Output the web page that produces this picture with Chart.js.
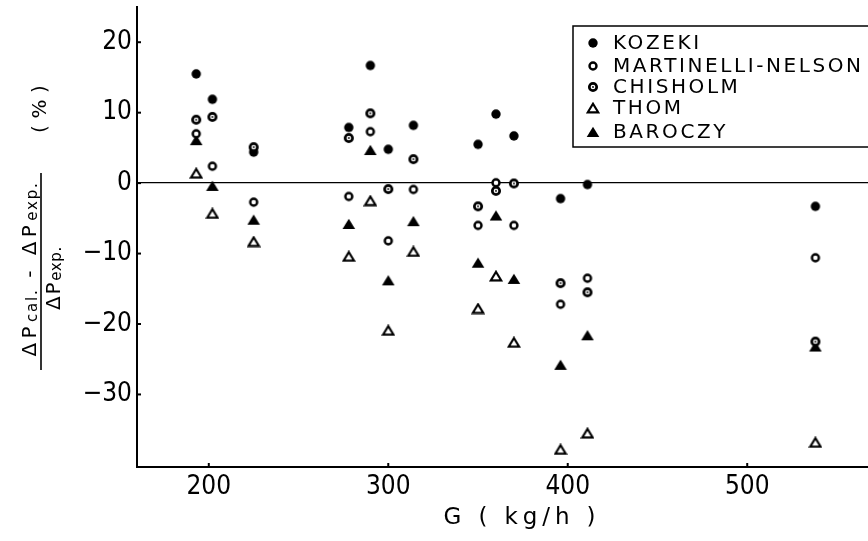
<!DOCTYPE html>
<html>
<head>
<meta charset="utf-8">
<script src="https://cdn.jsdelivr.net/npm/chart.js@4/dist/chart.umd.min.js"></script>
<style>
html,body{margin:0;padding:0;background:#fff;}
#wrap{width:868px;height:541px;position:relative;}
</style>
</head>
<body>
<div id="wrap"><canvas id="c"></canvas></div>
<script>
// ---- data ----
const G = [193, 202, 225, 278, 290, 300, 314, 350, 360, 370, 396, 411, 538];
const kozeki     = [15.5, 11.9, 4.4, 7.9, 16.7, 4.8, 8.2, 5.5, 9.8, 6.7, -2.2, -0.2, -3.3];
const martinelli = [7.0, 2.4, -2.7, -1.9, 7.3, -8.2, -0.9, -6.0, 0.05, -6.0, -17.2, -13.5, -10.6];
const chisholm   = [9.0, 9.4, 5.1, 6.4, 9.9, -0.85, 3.4, -3.3, -1.1, -0.05, -14.2, -15.5, -22.5];
const thom       = [1.4, -4.3, -8.3, -10.4, -2.5, -20.9, -9.7, -17.8, -13.2, -22.6, -37.8, -35.5, -36.8];
const baroczy    = [6.1, -0.4, -5.2, -5.8, 4.7, -13.8, -5.4, -11.3, -4.6, -13.6, -25.8, -21.6, -23.2];
const seriesNames = ['KOZEKI', 'MARTINELLI-NELSON', 'CHISHOLM', 'THOM', 'BAROCZY'];
const xTicks = [200, 300, 400, 500];
const yTicks = [-30, -20, -10, 0, 10, 20];

const FONT = "'DejaVu Sans Condensed', 'DejaVu Sans', sans-serif";
const WFONT = "'DejaVu Sans', sans-serif";

// ---- marker images ----
function mk(w, h, draw) {
  const c = document.createElement('canvas');
  c.width = w; c.height = h;
  const g = c.getContext('2d');
  draw(g, w, h);
  return c;
}
const mFilledCircle = mk(12, 12, (g) => { g.fillStyle = '#000'; g.beginPath(); g.arc(6, 6, 4.7, 0, Math.PI * 2); g.fill(); });
const mOpenCircle = mk(12, 12, (g) => { g.fillStyle = '#fff'; g.strokeStyle = '#000'; g.lineWidth = 2.4; g.beginPath(); g.arc(6, 6, 3.5, 0, Math.PI * 2); g.fill(); g.stroke(); });
const mDotCircle = mk(12, 12, (g) => { g.fillStyle = '#fff'; g.strokeStyle = '#000'; g.lineWidth = 2.7; g.beginPath(); g.arc(6, 6, 3.7, 0, Math.PI * 2); g.fill(); g.stroke(); g.fillStyle = '#000'; g.beginPath(); g.arc(6, 6, 0.9, 0, Math.PI * 2); g.fill(); });
const mOpenTri = mk(14, 12, (g) => { g.fillStyle = '#fff'; g.strokeStyle = '#000'; g.lineWidth = 2.2; g.lineJoin = 'miter'; g.beginPath(); g.moveTo(7, 1.8); g.lineTo(12.2, 10.3); g.lineTo(1.8, 10.3); g.closePath(); g.fill(); g.stroke(); });
const mFilledTri = mk(14, 12, (g) => { g.fillStyle = '#000'; g.beginPath(); g.moveTo(7, 0.8); g.lineTo(13.3, 11); g.lineTo(0.7, 11); g.closePath(); g.fill(); });
const markers = [mFilledCircle, mOpenCircle, mDotCircle, mOpenTri, mFilledTri];
const seriesVals = [kozeki, martinelli, chisholm, thom, baroczy];
const orders = [2, 1, 0, 3, 4];

const datasets = seriesNames.map((name, i) => ({
  label: name,
  data: G.map((g, j) => ({ x: g, y: seriesVals[i][j] })),
  pointStyle: markers[i],
  pointRadius: 6,
  showLine: false,
  order: orders[i]
}));

// draw text runs [text, font, baselineShift, spacingWeight] spread to a target length, centred at cu
function spacedRuns(ctx, parts, cu, v, target) {
  ctx.letterSpacing = '0px';
  let W = 0, n = 0;
  parts.forEach(p => { ctx.font = p[1]; W += ctx.measureText(p[0]).width; n += [...p[0]].length * (p[3] ?? 1); });
  const s = Math.max(0, (target - W) / Math.max(1, n));
  let u = cu - target / 2;
  ctx.textAlign = 'left';
  parts.forEach(p => {
    ctx.font = p[1];
    ctx.letterSpacing = '0px';
    const w = ctx.measureText(p[0]).width;
    const sp = s * (p[3] ?? 1);
    ctx.letterSpacing = sp + 'px';
    ctx.fillText(p[0], u, v + p[2]);
    u += w + sp * [...p[0]].length;
  });
  ctx.letterSpacing = '0px';
}

const customDraw = {
  id: 'customDraw',
  afterDraw(chart) {
    const ctx = chart.ctx;
    const xs = chart.scales.x, ys = chart.scales.y;
    const ca = chart.chartArea;
    ctx.save();
    ctx.fillStyle = '#000';
    ctx.strokeStyle = '#000';
    // inward tick marks
    ctx.lineWidth = 2;
    yTicks.forEach(v => { const py = ys.getPixelForValue(v); ctx.beginPath(); ctx.moveTo(ca.left, py); ctx.lineTo(ca.left + 4, py); ctx.stroke(); });
    xTicks.forEach(v => { const px = xs.getPixelForValue(v); ctx.beginPath(); ctx.moveTo(px, ca.bottom); ctx.lineTo(px, ca.bottom - 4); ctx.stroke(); });

    // legend
    ctx.lineWidth = 1.5;
    ctx.strokeRect(573, 26, 310, 121);
    const ly = [43, 66, 87, 108, 132];
    ctx.font = '20px ' + WFONT;
    ctx.textBaseline = 'middle';
    ctx.textAlign = 'left';
    const ref = ctx.measureText('MARTINELLI-NELSON').width;
    const ls = (248 - ref) / 16;
    ctx.letterSpacing = ls + 'px';
    seriesNames.forEach((n, i) => {
      const m = markers[i];
      ctx.drawImage(m, 593 - m.width / 2, ly[i] - m.height / 2);
      ctx.fillText(n, 613, ly[i] + 1);
    });
    ctx.letterSpacing = '0px';

    // x title
    ctx.textBaseline = 'middle';
    spacedRuns(ctx, [['G ( kg/h )', '23px ' + WFONT, 0, 1]], 522, 518, 157);

    // y title (rotated): u = -screenY, v = screenX
    ctx.save();
    ctx.rotate(-Math.PI / 2);
    const big = '20px ' + WFONT, small = '15px ' + WFONT;
    ctx.textBaseline = 'alphabetic';
    spacedRuns(ctx, [['\u0394P', big, 0, 1], ['cal.', small, 1, 0.4], [' - \u0394P', big, 0, 1], ['exp.', small, 1, 0.4]], -269, 36, 175);
    ctx.lineWidth = 1.6;
    ctx.beginPath(); ctx.moveTo(-370, 41); ctx.lineTo(-173, 41); ctx.stroke();
    spacedRuns(ctx, [['\u0394P', big, 0, 1], ['exp.', small, 1, 0.4]], -278, 60, 64);
    ctx.textBaseline = 'middle';
    spacedRuns(ctx, [['( % )', '20px ' + WFONT, 0, 1]], -109, 41, 48);
    ctx.restore();

    ctx.restore();
  }
};

new Chart(document.getElementById('c'), {
  type: 'scatter',
  data: { datasets },
  options: {
    responsive: true,
    maintainAspectRatio: false,
    animation: false,
    layout: { autoPadding: false, padding: { top: 7, right: 0, left: 0, bottom: 0 } },
    plugins: { legend: { display: false }, tooltip: { enabled: false } },
    elements: { point: { hoverRadius: 6 } },
    scales: {
      x: {
        type: 'linear',
        min: 160, max: 567.3,
        afterBuildTicks: s => { s.ticks = xTicks.map(v => ({ value: v })); },
        afterFit: s => { s.height = 74; s.paddingLeft = 0; s.paddingRight = 0; },
        grid: { display: false, drawTicks: false },
        border: { display: true, color: '#000', width: 2 },
        ticks: { color: '#000', padding: 5, font: { family: FONT, size: 26 }, maxRotation: 0, autoSkip: false }
      },
      y: {
        type: 'linear',
        min: -40.3, max: 25,
        afterBuildTicks: s => { s.ticks = yTicks.map(v => ({ value: v })); },
        afterFit: s => { s.width = 137; s.paddingTop = 0; s.paddingBottom = 0; },
        grid: {
          drawTicks: false,
          color: c => (c.tick && c.tick.value === 0) ? '#000' : 'rgba(0,0,0,0)',
          lineWidth: 1.3
        },
        border: { display: true, color: '#000', width: 2 },
        ticks: {
          color: '#000', padding: 5, font: { family: FONT, size: 26 }, autoSkip: false,
          callback: v => (v < 0 ? '\u2212' + Math.abs(v) : String(v))
        }
      }
    }
  },
  plugins: [customDraw]
});
</script>
</body>
</html>
